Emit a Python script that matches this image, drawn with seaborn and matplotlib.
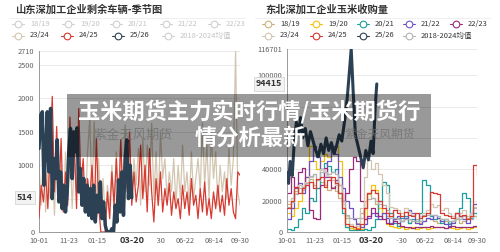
import numpy as np
import pandas as pd
import matplotlib
matplotlib.use('Agg')
import matplotlib.pyplot as plt
import seaborn as sns
from matplotlib.lines import Line2D
from matplotlib.patches import Rectangle
import matplotlib.transforms as mtransforms

# ---------------- data ----------------
tick_days = [0, 53, 106, 159, 212, 265, 318, 364]
tick_labels = ['10-01', '11-23', '01-15', '', '04-30', '06-22', '08-14', '09-30']
pointer_label = '03-20'
legend_names = ['18/19', '19/20', '20/21', '21/22', '22/23',
                '23/24', '24/25', '25/26', '2018-2024均值']

left_title = '山东深加工企业剩余车辆-季节图'
left_yticks = [0, 500, 1000, 1500, 2000, 2500, 2710]
left_ylabels = ['0', '', '1000', '1500', '2000', '2500', '2710']
left_last = 514
# 25/26 every 3 days from 10-01
left_2526 = [1250, 1750, 1800, 700, 1200, 1800, 900, 1850, 500, 1100, 800, 1380, 450, 900,
             350, 700, 300, 600, 1200, 1550, 800, 1500, 1200, 1560, 600, 950, 400, 800, 300,
             700, 250, 650, 200, 700, 150, 550, 300, 750, 200, 450, 100, 0, 0, 0, 50, 0, 400,
             150, 780, 300, 900, 250, 1100, 1380, 500, 1000, 514]
# 24/25 every 4 days
left_2425 = [210, 700, 450, 900, 350, 1200, 2030, 600, 1580, 500, 1400, 300, 900, 400, 1720,
             800, 1300, 350, 1850, 700, 1100, 300, 800, 500, 1000, 300, 1400, 400, 0, 0, 0, 600,
             200, 900, 400, 1100, 300, 1380, 500, 1200, 600, 1500, 400, 900, 450, 700, 1300,
             500, 1000, 300, 1250, 600, 150, 800, 400, 900, 300, 650, 400, 730, 250, 600, 350,
             500, 200, 700, 350, 600, 250, 800, 400, 550, 200, 650, 300, 750, 250, 500, 200,
             600, 350, 700, 300, 550, 250, 800, 400, 650, 300, 200, 900, 850]
# 23/24 every 4 days
left_2324 = [1000, 400, 1300, 300, 900, 500, 1100, 250, 1300, 600, 1000, 300, 1200, 500, 1400,
             350, 1100, 600, 1300, 400, 900, 300, 1200, 1700, 500, 1650, 400, 1100, 300, 800,
             200, 700, 400, 1000, 300, 1200, 500, 1380, 400, 1600, 600, 1300, 500, 1100, 700,
             1250, 400, 1400, 600, 1300, 700, 1630, 500, 1200, 400, 1500, 800, 1100, 500, 900,
             600, 1100, 400, 1000, 500, 1300, 600, 900, 400, 1200, 500, 800, 1100, 600, 1630,
             700, 1300, 500, 1500, 800, 1200, 400, 1000, 600, 900, 500, 1250, 700, 1100, 2710,
             600, 400]

right_title = '东北深加工企业玉米收购量'
right_yticks = [0, 20000, 40000, 60000, 80000, 100000, 116701]
right_ylabels = ['0', '20000', '40000', '', '', '100000', '116701']
right_last = 94415
# weekly values from 10-01
right_1819 = [18000, 22000, 26000, 30000, 27000, 31000, 34000, 30000, 28000, 32000, 30000, 27000,
              29000, 26000, 22000, 15000, 9000, 4000, 3000, 6000, 12000, 20000, 24000, 22000,
              18000, 15000, 12000, 10000, 9000, 8000, 9000, 7000, 8000, 6000, 7000, 8000, 6000,
              7000, 9000, 8000, 7000, 6000, 8000, 7000, 6000, 7000, 8000, 6000, 7000, 9000,
              8000, 10000, 11000]
right_1920 = [12000, 10000, 15000, 20000, 28000, 35000, 55000, 45000, 40000, 45000, 50000, 48000,
              52000, 55000, 45000, 20000, 3000, 2500, 2000, 2500, 2000, 8000, 25000, 30000,
              27000, 15000, 8000, 5000, 4000, 3000, 2500, 3000, 2000, 2500, 3000, 2000, 2500,
              3000, 2000, 2500, 3000, 3500, 3000, 2500, 3000, 2500, 2000, 2500, 3000, 2000,
              2500, 3000, 2500]
right_2021 = [2000, 1500, 3000, 8000, 15000, 12000, 22000, 20000, 28000, 40000, 44000, 42000,
              38000, 40000, 25000, 12000, 3000, 1500, 1000, 1000, 1500, 2000, 1000, 3000, 8000,
              20000, 32000, 30000, 12000, 6000, 4000, 9000, 10000, 6000, 8000, 7000, 12000,
              33000, 30000, 10000, 8000, 9000, 6000, 8000, 5000, 7000, 9000, 15000, 25000,
              22000, 9000, 12000, 8000]
right_2122 = [8000, 15000, 28000, 31000, 25000, 35000, 45000, 55000, 48000, 40000, 35000, 45000,
              55000, 50000, 35000, 28000, 20000, 15000, 8000, 5000, 3000, 5000, 9000, 12000,
              10000, 8000, 12000, 9000, 6000, 8000, 10000, 7000, 9000, 14000, 12000, 6000, 5000,
              7000, 9000, 8000, 11000, 9000, 7000, 5000, 4000, 6000, 12000, 10000, 8000, 6000,
              12000, 18000, 20000]
right_2223 = [25000, 35000, 29000, 38000, 41000, 30000, 14000, 9000, 8000, 30000, 41000, 35000,
              28000, 33000, 30000, 20000, 25000, 40000, 48000, 45000, 20000, 8000, 10000, 15000,
              12000, 10000, 8000, 6000, 5000, 7000, 6000, 4000, 3000, 3000, 2500, 3000, 3500,
              3000, 3000, 4000, 3500, 3000, 3000, 2500, 3000, 4000, 3500, 3000, 3000, 3500,
              3000, 4000, 4000]
right_2324 = [20000, 22000, 25000, 30000, 28000, 32000, 35000, 37000, 33000, 40000, 38000, 36000,
              33000, 30000, 25000, 18000, 10000, 5000, 3000, 4000, 15000, 35000, 46000, 40000,
              44000, 37000, 30000, 25000, 16000, 15000, 14000, 12000, 15000, 13000, 11000,
              12000, 10000, 12000, 14000, 18000, 16000, 17000, 14000, 15000, 12000, 10000,
              9000, 12000, 14000, 10000, 12000, 16000, 15000]
right_2425 = [15000, 20000, 29000, 25000, 28000, 30000, 32000, 28000, 34000, 35000, 29000, 33000,
              35000, 31000, 25000, 15000, 5000, 4000, 3000, 2000, 5000, 15000, 25000, 27000,
              25000, 20000, 15000, 12000, 10000, 14000, 12000, 10000, 13000, 11000, 10000,
              12000, 9000, 10000, 12000, 25500, 25000, 24000, 12000, 11000, 10000, 9000, 12000,
              10000, 11000, 8000, 10000, 43000, 36000]
right_mean = [16000, 19000, 24000, 28000, 29000, 31000, 36000, 37000, 33000, 38000, 38000, 37000,
              38000, 37000, 30000, 20000, 11000, 9000, 9000, 9000, 9000, 15000, 21000, 22000,
              20000, 18000, 17000, 14000, 9000, 9000, 8000, 7000, 8000, 8000, 7000, 7000, 7000,
              11000, 11000, 11000, 11000, 10000, 8000, 8000, 7000, 7000, 8000, 8000, 10000,
              8000, 8000, 15000, 13000]
right_2526_days = [0, 3, 6, 10, 14, 18, 22, 26, 30, 35, 40, 45, 50, 55, 60, 65, 70, 75, 80, 85,
                   90, 95, 100, 105, 110, 115, 119, 123, 127, 131, 136, 141, 146, 151, 156, 161,
                   165, 169, 172]
right_2526 = [38000, 31000, 45000, 36000, 58000, 70000, 62000, 73000, 60000, 66000, 55000, 64000,
              58000, 52000, 48000, 56000, 50000, 60000, 52000, 57000, 50000, 55000, 62000, 58000,
              70000, 84000, 100000, 116701, 88000, 62000, 55000, 48000, 41000, 52000, 46000,
              58000, 50000, 80000, 94415]

banner_line1 = '玉米期货主力实时行情/玉米期货行'
banner_line2 = '情分析最新'
watermark = '紫金天风期货'

# ---------------- style ----------------
sns.set_theme(style='white')
plt.rcParams['font.family'] = ['Noto Sans CJK SC', 'DejaVu Sans']
plt.rcParams['axes.unicode_minus'] = False

W, H = 500, 252
fig = plt.figure(figsize=(W / 100, H / 100), dpi=100)
fig.patch.set_facecolor('white')


def P(x, y):
    return (x / W, 1 - y / H)


C = {'18/19': '#c9b27c', '19/20': '#f4c20d', '20/21': '#1f9e9e', '21/22': '#6d52c6',
     '22/23': '#9c2a7c', '23/24': '#d3c6b0', '24/25': '#d63a30', '25/26': '#2c4254',
     'mean': '#b3b3b3'}
OFF = '#d0d0d0'


def style_axes(ax, yticks, ylabels, ymax):
    ax.set_xlim(0, 364)
    ax.set_ylim(0, ymax)
    ax.set_xticks(tick_days)
    ax.set_xticklabels(tick_labels)
    ax.set_yticks(yticks)
    ax.set_yticklabels(ylabels)
    for s in ['top', 'right']:
        ax.spines[s].set_visible(False)
    for s in ['left', 'bottom']:
        ax.spines[s].set_color('#9a9a9a')
        ax.spines[s].set_linewidth(0.7)
    ax.tick_params(axis='both', length=1.6, width=0.6, color='#9a9a9a',
                   labelsize=5.3, labelcolor='#606060', pad=1.8)
    ax.yaxis.grid(True, color='#e6e6e6', lw=0.6)
    ax.xaxis.grid(False)
    ax.set_axisbelow(True)
    ax.set_xlabel('')
    ax.set_ylabel('')


def pointer_labels(ax, xday, yval, ylabel, x_off_pt):
    tr = mtransforms.blended_transform_factory(ax.transData, ax.transAxes)
    ax.add_patch(Rectangle((xday - 38, -0.115), 84, 0.098, transform=tr,
                           facecolor='white', edgecolor='none', clip_on=False, zorder=6))
    ax.annotate(pointer_label, xy=(xday, 0), xycoords=tr, xytext=(0, -6.0),
                textcoords='offset points', ha='center', va='center', fontsize=6.6,
                fontweight='bold', color='#333333', zorder=7, annotation_clip=False)
    tr2 = mtransforms.blended_transform_factory(ax.transAxes, ax.transData)
    ax.annotate(ylabel, xy=(0, yval), xycoords=tr2, xytext=(x_off_pt, 0),
                textcoords='offset points', ha='center', va='center', fontsize=6.4,
                fontweight='bold', color='#333333', zorder=7, annotation_clip=False,
                bbox=dict(boxstyle='square,pad=0.25', facecolor='#f3f3f3',
                          edgecolor='#cfcfcf', lw=0.5))


# ---------------- left chart ----------------
axL = fig.add_axes([39 / W, 20 / H, 201 / W, 181 / H])
dL1 = pd.DataFrame({'day': np.linspace(0, 364, len(left_2324)), 'v': left_2324})
dL2 = pd.DataFrame({'day': np.linspace(0, 364, len(left_2425)), 'v': left_2425})
dL3 = pd.DataFrame({'day': np.linspace(0, 168, len(left_2526)), 'v': left_2526})
sns.lineplot(data=dL1, x='day', y='v', ax=axL, color=C['23/24'], lw=0.9, zorder=2)
sns.lineplot(data=dL2, x='day', y='v', ax=axL, color=C['24/25'], lw=0.9, zorder=3)
sns.lineplot(data=dL3, x='day', y='v', ax=axL, color=C['25/26'], lw=2.5, zorder=4,
             solid_joinstyle='round')
style_axes(axL, left_yticks, left_ylabels, 2710)
pointer_labels(axL, 168, left_last, str(left_last), -10)
axL.text(0.47, 0.535, watermark, transform=axL.transAxes, fontsize=9.5, color='#b8b8b8',
         alpha=0.75, ha='center', va='center', zorder=5)

# ---------------- right chart ----------------
axR = fig.add_axes([287 / W, 20 / H, 190 / W, 183 / H])
week = np.linspace(0, 364, 53)
series_r = [('18/19', right_1819), ('19/20', right_1920), ('20/21', right_2021),
            ('21/22', right_2122), ('22/23', right_2223), ('23/24', right_2324),
            ('mean', right_mean), ('24/25', right_2425)]
for i, (k, vals) in enumerate(series_r):
    d = pd.DataFrame({'day': week, 'v': vals})
    sns.lineplot(data=d, x='day', y='v', ax=axR, color=C[k], lw=0.9, zorder=2 + i * 0.1,
                 drawstyle='steps-post')
dR = pd.DataFrame({'day': right_2526_days, 'v': right_2526})
sns.lineplot(data=dR, x='day', y='v', ax=axR, color=C['25/26'], lw=2.2, zorder=4,
             solid_joinstyle='round')
style_axes(axR, right_yticks, right_ylabels, 116701)
pointer_labels(axR, 162, right_last, str(right_last), -13)
axR.text(0.49, 0.535, watermark, transform=axR.transAxes, fontsize=8.5, color='#b8b8b8',
         alpha=0.75, ha='center', va='center', zorder=5)

# ---------------- titles ----------------
fig.text(*P(15, 10), left_title, fontsize=7.4, fontweight='bold', color='#333333',
         ha='left', va='center')
fig.text(*P(265, 10), right_title, fontsize=7.4, fontweight='bold', color='#333333',
         ha='left', va='center')
for x0, x1 in [(10, 245), (255, 490)]:
    fig.add_artist(Line2D([x0 / W, x1 / W], [1 - 18 / H] * 2, transform=fig.transFigure,
                          color='#ececec', lw=0.6))


# ---------------- legends ----------------
def legend_item(x, y, color, text, tcolor):
    fig.add_artist(Line2D([x / W, (x + 12) / W], [1 - y / H] * 2, transform=fig.transFigure,
                          color=color, lw=0.8))
    fig.add_artist(Line2D([(x + 6) / W], [1 - y / H], transform=fig.transFigure,
                          marker='o', markersize=4.8, markerfacecolor='white',
                          markeredgecolor=color, markeredgewidth=0.8, lw=0))
    fig.text((x + 18) / W, 1 - y / H, text, fontsize=5.4, color=tcolor, ha='left',
             va='center')


keys = ['18/19', '19/20', '20/21', '21/22', '22/23', '23/24', '24/25', '25/26', 'mean']
left_on = {'23/24', '24/25', '25/26'}
row1_L = [12, 62, 110, 160, 208]
row2_L = [12, 61, 112, 162]
row1_R = [262, 310, 357, 403, 450]
row2_R = [262, 310, 357, 403]
for j, k in enumerate(keys):
    name = legend_names[j]
    if j < 5:
        xl, yl, xr = row1_L[j], 24, row1_R[j]
    else:
        xl, yl, xr = row2_L[j - 5], 35.5, row2_R[j - 5]
    on = k in left_on
    legend_item(xl, yl, C[k] if on else OFF, name, '#333333' if on else '#c4c4c4')
    legend_item(xr, yl, C[k], name, '#333333')

# ---------------- banner ----------------
fig.add_artist(Rectangle(P(67, 157), 364 / W, 63 / H, transform=fig.transFigure,
                         facecolor='black', alpha=0.40, edgecolor='none', zorder=10))
fig.text(*P(249, 112), banner_line1, fontsize=16, fontweight='bold', color='white',
         ha='center', va='center', zorder=11)
fig.text(*P(250, 138), banner_line2, fontsize=16, fontweight='bold', color='white',
         ha='center', va='center', zorder=11)

fig.savefig('out.png', dpi=100, facecolor='white')
